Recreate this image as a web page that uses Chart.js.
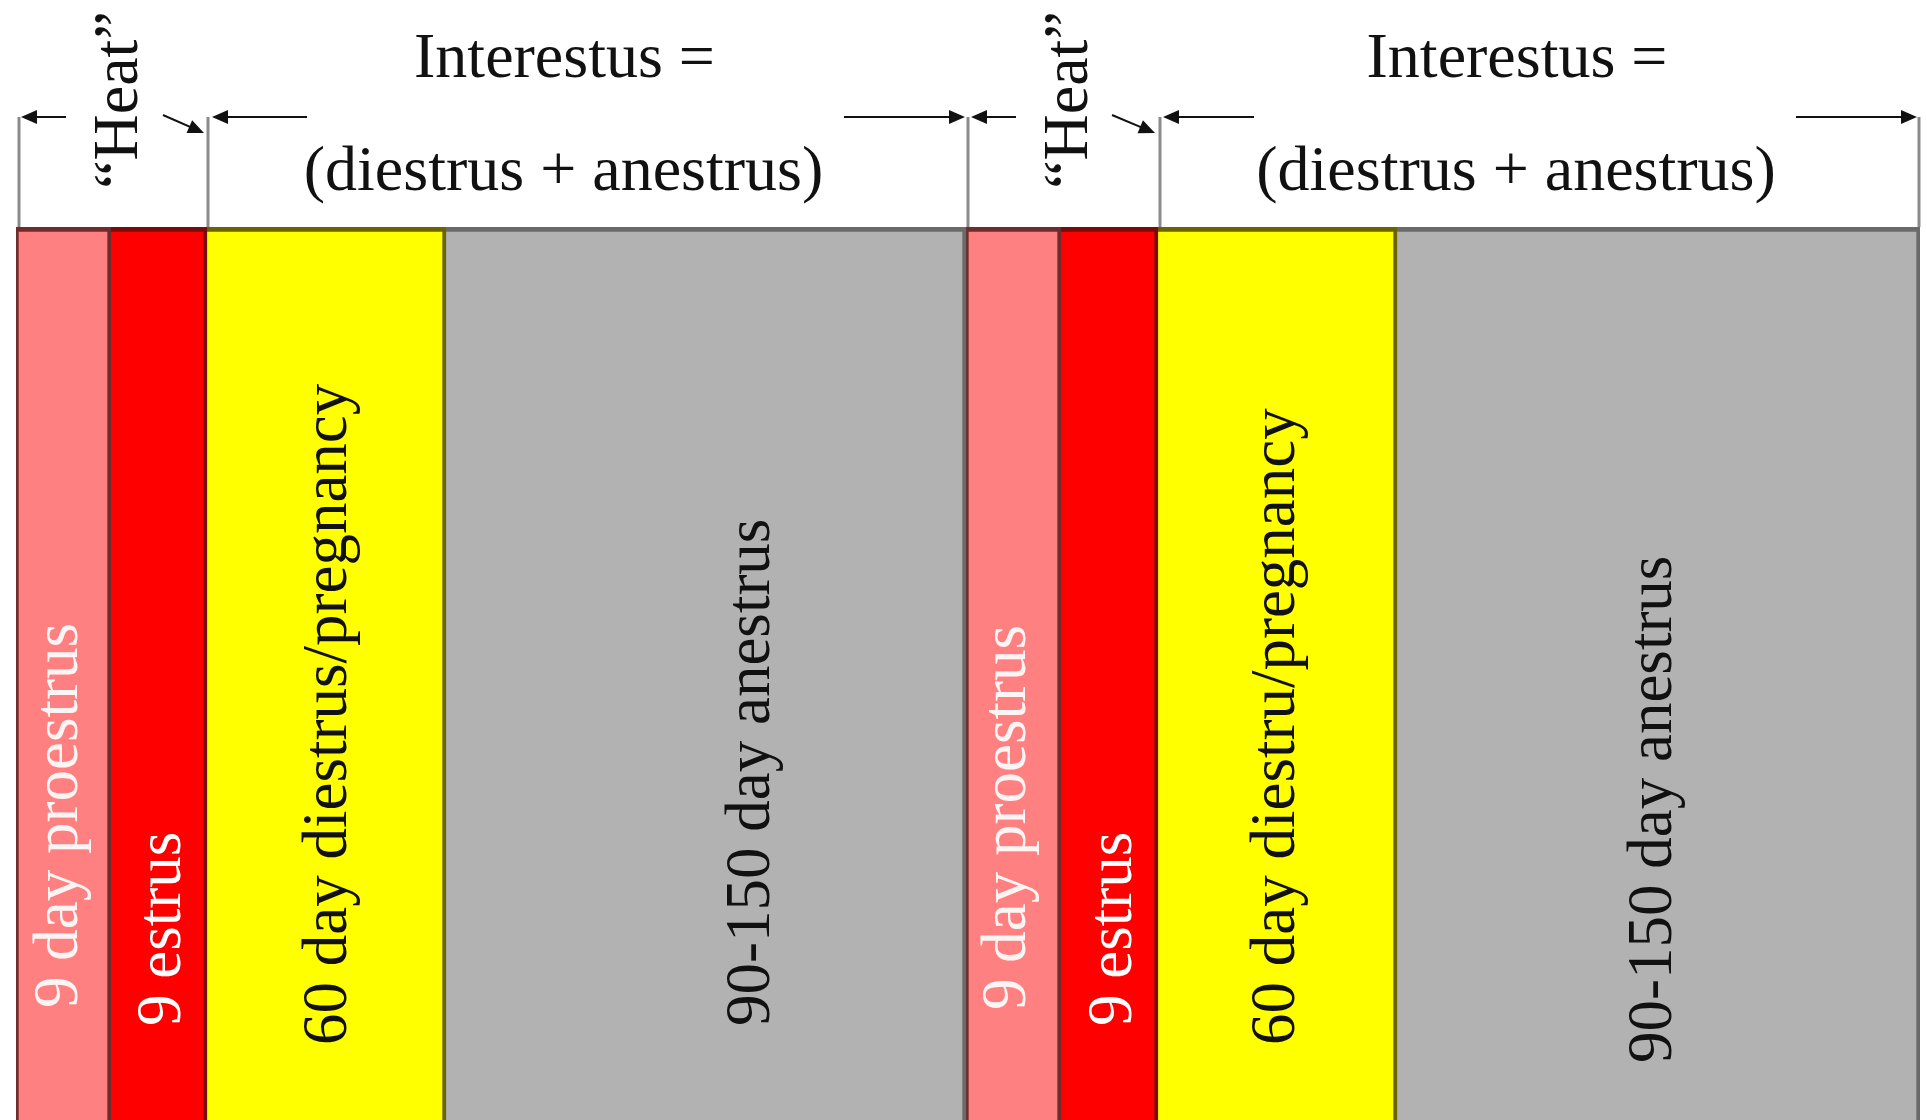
<!DOCTYPE html>
<html>
<head>
<meta charset="utf-8">
<title>Canine oestrous cycle</title>
<script src="https://cdn.jsdelivr.net/npm/chart.js@4/dist/chart.umd.min.js"></script>
<style>
  html, body { margin: 0; padding: 0; background: #fff; }
  .chart { width: 1927px; height: 1120px; }
</style>
</head>
<body>
<div class="chart"><canvas id="cycle" width="1927" height="1120"></canvas></div>
<script>
'use strict';

// one row, two back-to-back cycles, each cut into four phases
var phaseNames = ['proestrus', 'estrus', 'diestrus', 'anestrus'];
var cycleNames = ['cycle 1', 'cycle 2'];
// drawn length of each phase (the picture is not to scale)
var cycleOneWidths = [95, 96, 239, 520];
var cycleTwoWidths = [95, 97, 239, 523];
var cycleOneText = ['9 day proestrus', '9 estrus', '60 day diestrus/pregnancy', '90-150 day anestrus'];
var cycleTwoText = ['9 day proestrus', '9 estrus', '60 day diestru/pregnancy', '90-150 day anestrus'];
var heatText = '\u201cHeat\u201d';
var interTop = 'Interestus =';
var interBottom = '(diestrus + anestrus)';

var phaseColors = ['#ff8080', '#ff0000', '#ffff00', '#b2b2b2'];
var phaseEdges = ['#6e2c2c', '#780c0c', '#6a6400', '#6a6a6a'];
var textColors = ['#fff4f4', '#ffffff', '#111111', '#111111'];

// nudges for the rotated labels (px): sideways shift, distance of text start above the bottom
var labelShift = [-3, 4, 3, 46, -5, 5, 0, -4];
var labelLift = [112, 94, 75, 94, 110, 94, 75, 57];

var widths = cycleOneWidths.concat(cycleTwoWidths);
var texts = cycleOneText.concat(cycleTwoText);
var total = widths.reduce(function(a, b) { return a + b; }, 0);

var datasets = widths.map(function(w, i) {
  var p = i % 4;
  return {
    label: cycleNames[Math.floor(i / 4)] + ' ' + phaseNames[p],
    data: [w],
    backgroundColor: phaseColors[p],
    borderColor: phaseEdges[p],
    borderWidth: { top: 5, left: p === 0 ? 3 : 0, right: 4, bottom: 0 },
    borderSkipped: false,
    stack: 'row'
  };
});

var FONT = '"Liberation Serif", "Times New Roman", serif';

function arrow(ctx, x1, y1, x2, y2) {
  var ang = Math.atan2(y2 - y1, x2 - x1);
  var len = 16, half = 7;
  ctx.beginPath();
  ctx.moveTo(x1, y1);
  ctx.lineTo(x2 - Math.cos(ang) * len * 0.8, y2 - Math.sin(ang) * len * 0.8);
  ctx.stroke();
  ctx.beginPath();
  ctx.moveTo(x2, y2);
  ctx.lineTo(x2 - Math.cos(ang) * len + Math.sin(ang) * half, y2 - Math.sin(ang) * len - Math.cos(ang) * half);
  ctx.lineTo(x2 - Math.cos(ang) * len - Math.sin(ang) * half, y2 - Math.sin(ang) * len + Math.cos(ang) * half);
  ctx.closePath();
  ctx.fill();
}

var annotate = {
  id: 'annotate',
  afterDatasetsDraw: function(chart) {
    var ctx = chart.ctx;
    var area = chart.chartArea;
    var xs = chart.scales.x;

    // phase labels, rotated, reading upwards
    ctx.save();
    ctx.font = '63px ' + FONT;
    ctx.textAlign = 'left';
    ctx.textBaseline = 'middle';
    chart.data.datasets.forEach(function(ds, i) {
      var bar = chart.getDatasetMeta(i).data[0];
      var cx = (bar.x + bar.base) / 2 + labelShift[i];
      ctx.save();
      ctx.translate(cx, area.bottom - labelLift[i]);
      ctx.rotate(-Math.PI / 2);
      ctx.fillStyle = textColors[i % 4];
      ctx.fillText(texts[i], 0, 0);
      ctx.restore();
    });
    ctx.restore();

    // bracket positions: start of each cycle, end of heat, end of cycle
    var c1 = cycleOneWidths, c2 = cycleTwoWidths;
    var sum1 = c1[0] + c1[1] + c1[2] + c1[3];
    var b0 = xs.getPixelForValue(0);
    var b1 = xs.getPixelForValue(c1[0] + c1[1]);
    var b2 = xs.getPixelForValue(sum1);
    var b3 = xs.getPixelForValue(sum1 + c2[0] + c2[1]);
    var b4 = xs.getPixelForValue(total);
    var ay = 117;

    ctx.save();
    ctx.strokeStyle = '#8a8a8a';
    ctx.lineWidth = 3;
    [b0 + 3, b1 + 1, b2 + 2, b3 + 2, b4 - 1].forEach(function(x) {
      ctx.beginPath();
      ctx.moveTo(x, ay);
      ctx.lineTo(x, area.top);
      ctx.stroke();
    });
    ctx.restore();

    ctx.save();
    ctx.strokeStyle = '#111';
    ctx.fillStyle = '#111';
    ctx.lineWidth = 2;
    arrow(ctx, b0 + 50, ay, b0 + 5, ay);
    arrow(ctx, b1 - 44, ay - 2, b1 - 3, ay + 16);
    arrow(ctx, b1 + 100, ay, b1 + 5, ay);
    arrow(ctx, b2 - 122, ay, b2 - 1, ay);
    arrow(ctx, b2 + 50, ay, b2 + 5, ay);
    arrow(ctx, b3 - 46, ay - 2, b3 - 3, ay + 16);
    arrow(ctx, b3 + 96, ay, b3 + 5, ay);
    arrow(ctx, b4 - 124, ay, b4 - 3, ay);
    ctx.restore();

    ctx.save();
    ctx.fillStyle = '#111';
    ctx.font = '64px ' + FONT;
    ctx.textAlign = 'center';
    ctx.textBaseline = 'alphabetic';
    [b0, b2].forEach(function(x) {
      ctx.save();
      ctx.translate(x + 121, 100);
      ctx.rotate(-Math.PI / 2);
      ctx.fillText(heatText, 0, 0);
      ctx.restore();
    });
    [[b1, b2], [b3, b4]].forEach(function(span) {
      var mid = (span[0] + span[1]) / 2;
      ctx.fillText(interTop, mid - 22, 77);
      ctx.fillText(interBottom, mid - 23, 190);
    });
    ctx.restore();
  }
};

new Chart(document.getElementById('cycle'), {
  type: 'bar',
  data: { labels: ['cycle'], datasets: datasets },
  options: {
    indexAxis: 'y',
    responsive: false,
    animation: false,
    devicePixelRatio: 1,
    layout: { padding: { left: 16, right: 7, top: 227, bottom: 0 } },
    datasets: { bar: { barPercentage: 1, categoryPercentage: 1 } },
    scales: {
      x: { display: false, stacked: true, min: 0, max: total },
      y: { display: false, stacked: true }
    },
    plugins: { legend: { display: false }, tooltip: { enabled: false } }
  },
  plugins: [annotate]
});
</script>
</body>
</html>
